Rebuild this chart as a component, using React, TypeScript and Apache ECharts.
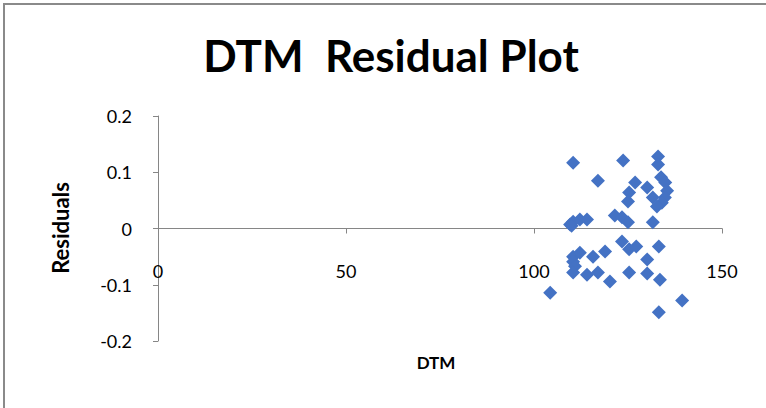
import React, { useEffect, useRef } from "react";
import * as echarts from "echarts";

const dtm: number[] = [110.4, 123.7, 133.0, 133.0, 117.0, 126.9, 130.1, 125.3, 125.0, 131.6, 133.8, 134.9, 135.4, 134.8, 134.0, 132.7, 109.6, 110.4, 112.2, 114.1, 121.5, 123.4, 125.0, 131.6, 110.0, 123.4, 125.3, 127.2, 118.9, 115.7, 110.4, 112.2, 110.4, 110.9, 110.4, 114.1, 117.0, 120.2, 125.3, 130.1, 130.1, 133.5, 133.2, 104.3, 139.4, 133.2];
const residuals: number[] = [0.117, 0.121, 0.128, 0.114, 0.085, 0.082, 0.073, 0.064, 0.048, 0.055, 0.091, 0.082, 0.067, 0.055, 0.046, 0.039, 0.007, 0.012, 0.016, 0.016, 0.023, 0.02, 0.011, 0.011, 0.005, -0.023, -0.037, -0.032, -0.041, -0.05, -0.05, -0.043, -0.059, -0.067, -0.078, -0.082, -0.078, -0.094, -0.078, -0.055, -0.08, -0.091, -0.032, -0.114, -0.128, -0.149];

const titleText = "DTM  Residual Plot";
const xName = "DTM";
const yName = "Residuals";

const FONT = "Lato, 'Liberation Sans', sans-serif";
const LFONT = "Lato, 'Liberation Sans', sans-serif";

export default function App() {
  const ref = useRef<HTMLDivElement>(null);
  useEffect(() => {
    if (!ref.current) return;
    const chart = echarts.init(ref.current, undefined, { renderer: "svg" });
    const data = dtm.map((x, i) => [x, residuals[i]]);
    chart.setOption({
      animation: false,
      backgroundColor: "#ffffff",
      title: {
        text: titleText,
        left: 386,
        top: 28,
        textAlign: "center",
        textStyle: { fontFamily: FONT, fontWeight: "bold", fontSize: 44, color: "#000" },
      },
      grid: { left: 158, right: 44, top: 116, bottom: 67 },
      xAxis: {
        type: "value",
        min: 0,
        max: 150,
        interval: 50,
        splitLine: { show: false },
        axisLine: { onZero: true, lineStyle: { color: "#868686", width: 1 } },
        axisTick: { show: true, inside: false, length: 5, lineStyle: { color: "#868686" } },
        axisLabel: { margin: -79, color: "#000", fontSize: 18, fontFamily: LFONT },
      },
      yAxis: {
        type: "value",
        min: -0.2,
        max: 0.2,
        interval: 0.1,
        splitLine: { show: false },
        axisLine: { show: true, onZero: false, lineStyle: { color: "#868686", width: 1 } },
        axisTick: { show: true, length: 5, lineStyle: { color: "#868686" } },
        axisLabel: {
          margin: 26,
          color: "#000",
          fontSize: 18,
          fontFamily: LFONT,
          formatter: (v: number) => (Math.abs(v) < 1e-9 ? "0" : String(Math.round(v * 10) / 10)),
        },
      },
      graphic: [
        {
          type: "rect",
          shape: { x: 4, y: 4, width: 800, height: 440 },
          style: { fill: "none", stroke: "#8a8a8a", lineWidth: 2 },
          silent: true,
        },
        {
          type: "text",
          x: 436,
          y: 362,
          style: { text: xName, fontFamily: LFONT, fontWeight: "bold", fontSize: 17, fill: "#000", align: "center", verticalAlign: "middle" },
        },
        {
          type: "text",
          x: 60,
          y: 228,
          rotation: Math.PI / 2,
          style: { text: yName, fontFamily: LFONT, fontWeight: "bold", fontSize: 22, fill: "#000", align: "center", verticalAlign: "middle" },
        },
      ],
      series: [
        {
          type: "scatter",
          data,
          symbol: "diamond",
          symbolSize: 14,
          itemStyle: { color: "#4472C4", opacity: 1 },
        },
      ],
    });
    return () => chart.dispose();
  }, []);
  return <div ref={ref} style={{ position: "fixed", left: 0, top: 0, width: 766, height: 408 }} />;
}
